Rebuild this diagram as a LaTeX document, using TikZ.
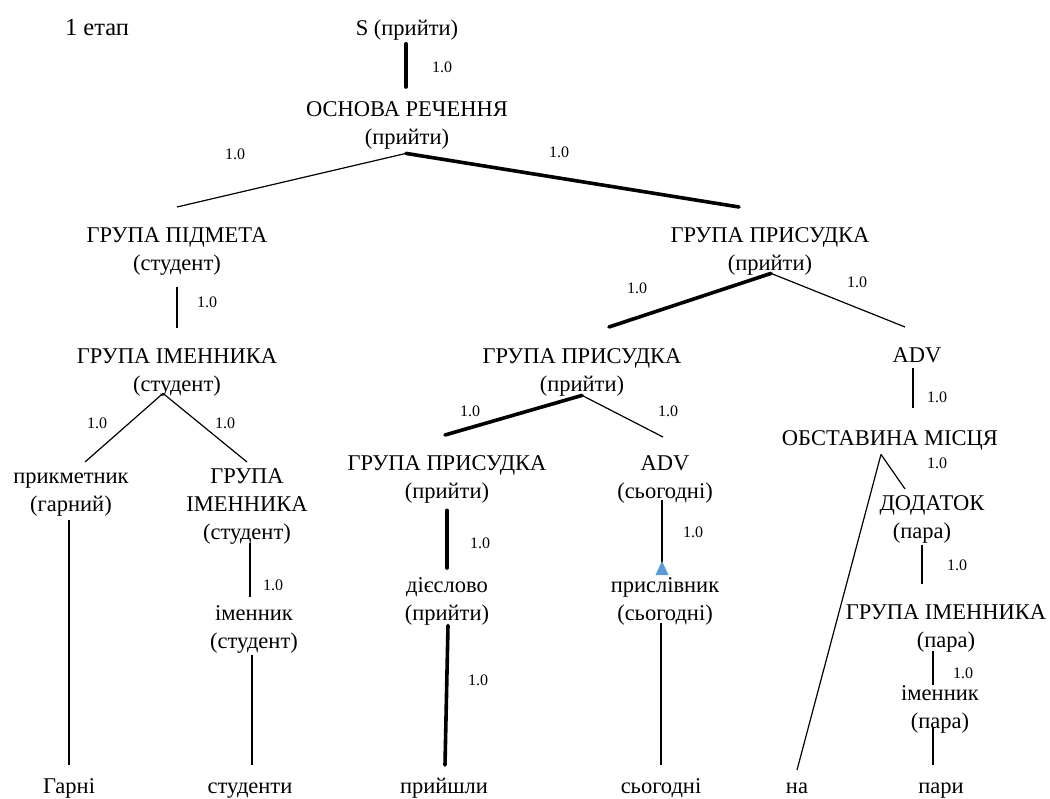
\documentclass[tikz,border=0pt]{standalone}
\usepackage{fontspec}
\setmainfont{Liberation Serif}
\usetikzlibrary{calc}

\definecolor{tipblue}{RGB}{91,155,213}

\tikzset{
  tn/.style={anchor=north, inner sep=0pt, align=center, font=\fontsize{22.5}{28}\selectfont},
  wt/.style={inner sep=0pt, font=\fontsize{16}{19}\selectfont},
  ln/.style={line width=1.2pt},
  lnb/.style={line width=3.6pt, line cap=round},
  tri/.style={fill=tipblue},
}

\begin{document}
\begin{tikzpicture}[x=1pt,y=-1pt]
\useasboundingbox (0,0) rectangle (1050,799);

% tree nodes (anchor north = first baseline - 19.6)
\node[tn, font=\fontsize{24.5}{28}\selectfont] (etap) at (97,15.4) {\strut 1 етап};
\node[tn] (s)     at (407,15.4) {\strut S (прийти)};
\node[tn] (osn)   at (407,96.4) {\strut ОСНОВА РЕЧЕННЯ\\(прийти)\strut};
\node[tn] (gpid)  at (177,222.4) {\strut ГРУПА ПІДМЕТА\\(студент)\strut};
\node[tn] (gim1)  at (177,343.4) {\strut ГРУПА ІМЕННИКА\\(студент)\strut};
\node[tn] (prykm) at (71,463.4)  {\strut прикметник\\(гарний)\strut};
\node[tn] (gim2)  at (247,463.4) {\strut ГРУПА\\ІМЕННИКА\\(студент)\strut};
\node[tn] (imen1) at (254,600.4) {\strut іменник\\(студент)\strut};
\node[tn] (gpr1)  at (770,222.4) {\strut ГРУПА ПРИСУДКА\\(прийти)\strut};
\node[tn] (gpr2)  at (582,343.4) {\strut ГРУПА ПРИСУДКА\\(прийти)\strut};
\node[tn] (advr)  at (917,342.4) {\strut ADV\strut};
\node[tn] (gpr3)  at (447,450.4) {\strut ГРУПА ПРИСУДКА\\(прийти)\strut};
\node[tn] (adv1)  at (665,450.4) {\strut ADV\\(сьогодні)\strut};
\node[tn] (dies)  at (447,572.4) {\strut дієслово\\(прийти)\strut};
\node[tn] (prysl) at (665,572.4) {\strut прислівник\\(сьогодні)\strut};
\node[tn] (obst)  at (890,425.4) {\strut ОБСТАВИНА МІСЦЯ\strut};
\node[tn] (dod)   at (922,490.4) {\strut\hspace*{20pt}ДОДАТОК\\(пара)\strut};
\node[tn] (gim3)  at (946,599.4) {\strut ГРУПА ІМЕННИКА\\(пара)\strut};
\node[tn] (imen2) at (940,680.4) {\strut іменник\\(пара)\strut};

% words of the sentence
\node[tn] (w1) at (69,773.4)  {\strut Гарні};
\node[tn] (w2) at (250,773.4) {\strut студенти};
\node[tn] (w3) at (444,773.4) {\strut прийшли};
\node[tn] (w4) at (661,773.4) {\strut сьогодні};
\node[tn] (w5) at (797,773.4) {\strut на};
\node[tn] (w6) at (941,773.4) {\strut пари};

% branch weights
\node[wt] (l1)  at (442,67)  {1.0};
\node[wt] (l2)  at (235,154) {1.0};
\node[wt] (l3)  at (559,152) {1.0};
\node[wt] (l4)  at (207,302) {1.0};
\node[wt] (l5)  at (97,423)  {1.0};
\node[wt] (l6)  at (225,423) {1.0};
\node[wt] (l7)  at (273,585) {1.0};
\node[wt] (l8)  at (637,288) {1.0};
\node[wt] (l9)  at (857,282) {1.0};
\node[wt] (l10) at (937,397) {1.0};
\node[wt] (l11) at (470,411) {1.0};
\node[wt] (l12) at (668,411) {1.0};
\node[wt] (l13) at (480,543) {1.0};
\node[wt] (l14) at (693,532) {1.0};
\node[wt] (l15) at (478,680) {1.0};
\node[wt] (l16) at (937,463) {1.0};
\node[wt] (l17) at (957,565) {1.0};
\node[wt] (l18) at (963,673) {1.0};

% branches
\draw[lnb] ($(s.south)+(-1,0)$) -- ($(osn.north)+(-1,-9.4)$);
\draw[ln]  ($(osn.south)+(-1,0.6)$) -- ($(gpid.north)+(0,-15.4)$);
\draw[lnb] ($(osn.south)+(-1,0.6)$) -- ($(gpr1.north)+(-31,-15.4)$);
\draw[ln]  ($(gpid.south)+(0,8.6)$) -- ($(gim1.north)+(0,-15.4)$);
\draw[ln]  ($(gim1.south)+(-14,-6.4)$) -- ($(prykm.north)+(14,-1.4)$);
\draw[ln]  ($(gim1.south)+(-14,-6.4)$) -- ($(gim2.north)+(0,-1.4)$);
\draw[ln]  ($(gim2.south)+(3,-4.4)$) -- ($(imen1.north)+(-4,-3.4)$);
\draw[ln]  ($(prykm.south)+(-2,0)$) -- ($(w1.north)+(0,-8.4)$);
\draw[ln]  ($(imen1.south)+(-2,-1.4)$) -- ($(w2.north)+(2,-8.4)$);
\draw[lnb] ($(gpr1.south)+(1,-5.4)$) -- ($(gpr2.north)+(27,-16.4)$);
\draw[ln]  ($(gpr1.south)+(1,-5.4)$) -- ($(advr.north)+(-12,-15.4)$);
\draw[ln]  ($(advr.south)+(-4,-2.4)$) -- ($(obst.north)+(23,-17.4)$);
\draw[lnb] ($(gpr2.south)+(0,-4.4)$) -- ($(gpr3.north)+(-2,-15.4)$);
\draw[ln]  ($(gpr2.south)+(0,-4.4)$) -- ($(adv1.north)+(-2,-13.4)$);
\draw[lnb] ($(gpr3.south)+(0,3.6)$) -- ($(dies.north)+(0,-4.4)$);
\draw[ln]  ($(adv1.south)+(-3,-6.4)$) -- ($(prysl.north)+(-3,-4)$);
\fill[tri] ($(prysl.north)+(-3,-11.4)$) -- ($(prysl.north)+(3.5,2.6)$) -- ($(prysl.north)+(-9.5,2.6)$) -- cycle;
\draw[lnb] ($(dies.south)+(1,-3.4)$) -- ($(w3.north)+(1,-8.4)$);
\draw[ln]  ($(prysl.south)+(-4,-5.4)$) -- ($(w4.north)+(0,-8.4)$);
\draw[ln]  ($(obst.south)+(-9,0.6)$) -- ($(dod.north)+(-17,-1.4)$);
\draw[ln]  ($(obst.south)+(-9,0.6)$) -- ($(w5.north)+(0,-3.4)$);
\draw[ln]  ($(dod.south)+(0,-1.4)$) -- ($(gim3.north)+(-24,-15.4)$);
\draw[ln]  ($(gim3.south)+(-13,-4.4)$) -- ($(imen2.north)+(-7,4.6)$);
\draw[ln]  ($(imen2.south)+(-7,-9.4)$) -- ($(w6.north)+(-8,-8.4)$);
\end{tikzpicture}
\end{document}
